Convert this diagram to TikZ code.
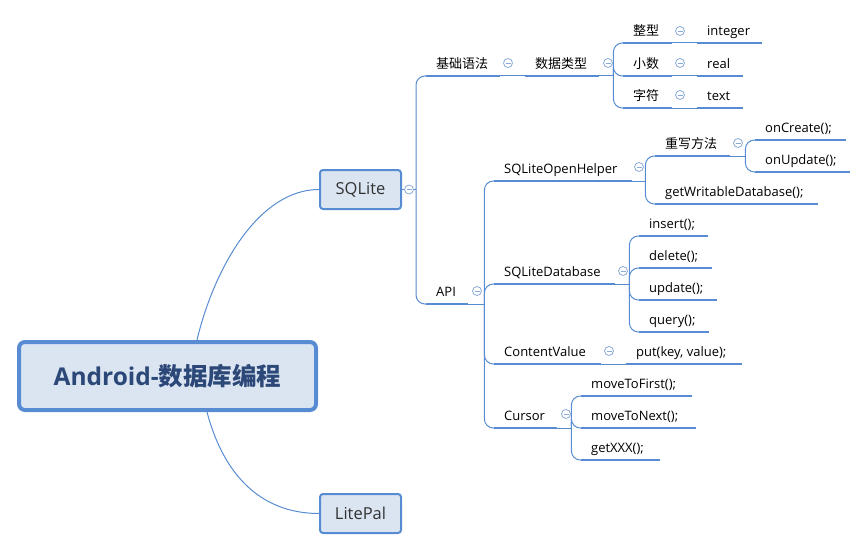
\documentclass[tikz,border=0pt]{standalone}
\usepackage{fontspec}
\setmainfont{Open Sans}
\newfontfamily\cjk{Noto Sans CJK SC}
\definecolor{lineblue}{RGB}{88,140,210}
\definecolor{boxfill}{RGB}{219,229,242}
\definecolor{rootText}{RGB}{44,72,120}
\definecolor{collc}{RGB}{140,170,215}
\definecolor{boxText}{RGB}{50,50,50}
\newcommand\tp[5]{\node[topic] (#1) at (#2,#3) {\makebox[#4pt][l]{#5}};\draw[uline] (#1.south west) -- (#1.south east);}
\newcommand\cl[3]{\node[coll] (#1) at (#2,#3) {};\draw[collc, line width=0.8pt] ([xshift=-2.5pt]#1.center) -- ([xshift=2.5pt]#1.center);}
\newcommand\br[2]{\draw[conn, rounded corners=9pt] (#1) |- (#2.south west);}
\begin{document}
\begin{tikzpicture}[x=1pt,y=-1pt,
 conn/.style={draw=lineblue, line width=1pt},
 uline/.style={draw=lineblue, line width=2.8pt},
 topic/.style={anchor=south west, inner xsep=10pt, inner ysep=4.5pt, text height=9.5pt, text depth=3pt, font=\fontsize{13}{15}\selectfont},
 coll/.style={circle, draw=collc, line width=0.8pt, fill=white, minimum size=9pt, inner sep=0pt},
 box/.style={draw=lineblue, line width=2pt, fill=boxfill, rounded corners=3pt, minimum width=81pt, minimum height=39pt, inner sep=0pt, font=\fontsize{16.5}{18}\selectfont, text=boxText},
 rootbox/.style={draw=lineblue, line width=4pt, fill=boxfill, rounded corners=6pt, minimum width=297pt, minimum height=68pt, inner sep=0pt, font=\fontsize{24.5}{27}\selectfont, text=rootText}]
\useasboundingbox (0,0) rectangle (868,551);

% main boxes
\node[rootbox] (root) at (167.5,376) {\bfseries Android-{\cjk\bfseries 数据库编程}};
\node[box] (sq) at (360.5,189.5) {SQLite};
\node[box] (lp) at (360.5,513.5) {LitePal};
\draw[conn] ([xshift=29.5pt]root.north) .. controls (215,265) and (260,189.5) .. (sq.west);
\draw[conn] ([xshift=39.5pt]root.south) .. controls (225,480) and (265,513.5) .. (lp.west);

% topics
\tp{jcyf}{426}{76}{54}{\cjk 基础语法}
\tp{api}{426}{304}{22}{API}
\tp{sjlx}{525}{76}{54}{\cjk 数据类型}
\tp{zx}{623}{43}{29}{\cjk 整型}
\tp{xs}{623}{76}{29}{\cjk 小数}
\tp{zf}{623}{108}{29}{\cjk 字符}
\tp{tint}{697}{43}{45}{integer}
\tp{treal}{697}{76}{26}{real}
\tp{ttext}{697}{108}{26}{text}
\tp{soh}{494}{181}{118}{SQLiteOpenHelper}
\tp{sdb}{494}{284}{101}{SQLiteDatabase}
\tp{cv}{494}{364}{87}{ContentValue}
\tp{cur}{494}{428}{43}{Cursor}
\tp{cxff}{655}{156}{55}{\cjk 重写方法}
\tp{gwd}{655}{204}{143}{getWritableDatabase();}
\tp{onc}{755}{140}{71}{onCreate();}
\tp{onu}{755}{172}{75}{onUpdate();}
\tp{ins}{639}{236}{49}{insert();}
\tp{del}{639}{268}{53}{delete();}
\tp{upd}{639}{300}{58}{update();}
\tp{qry}{639}{332}{50}{query();}
\tp{put}{626}{364}{96}{put(key, value);}
\tp{mtf}{581}{396}{91}{moveToFirst();}
\tp{mtn}{581}{428}{95}{moveToNext();}
\tp{gx}{581}{460}{59}{getXXX();}

% straight links
\draw[conn] (jcyf.south east) -- (sjlx.south west);
\draw[conn] (zx.south east) -- (tint.south west);
\draw[conn] (xs.south east) -- (treal.south west);
\draw[conn] (zf.south east) -- (ttext.south west);
\draw[conn] (cv.south east) -- (put.south west);

% junctions
\coordinate (Js) at (416,189.5);
\draw[conn] (sq.east) -- (Js);
\br{Js}{jcyf}\br{Js}{api}
\coordinate (Jd) at ([xshift=14pt]sjlx.south east);
\draw[conn] (sjlx.south east) -- (Jd);
\br{Jd}{zx}\br{Jd}{xs}\br{Jd}{zf}
\coordinate (Ja) at ([xshift=16pt]api.south east);
\draw[conn] (api.south east) -- (Ja);
\br{Ja}{soh}\br{Ja}{sdb}\br{Ja}{cv}\br{Ja}{cur}
\coordinate (Jo) at ([xshift=13pt]soh.south east);
\draw[conn] (soh.south east) -- (Jo);
\br{Jo}{cxff}\br{Jo}{gwd}
\coordinate (Jc) at ([xshift=15pt]cxff.south east);
\draw[conn] (cxff.south east) -- (Jc);
\br{Jc}{onc}\br{Jc}{onu}
\coordinate (Jb) at ([xshift=14pt]sdb.south east);
\draw[conn] (sdb.south east) -- (Jb);
\br{Jb}{ins}\br{Jb}{del}\br{Jb}{upd}\br{Jb}{qry}
\coordinate (Jr) at ([xshift=14pt]cur.south east);
\draw[conn] (cur.south east) -- (Jr);
\br{Jr}{mtf}\br{Jr}{mtn}\br{Jr}{gx}

% collapse markers
\cl{cS}{409}{189.5}
\cl{c1}{508}{63}
\cl{c2}{608}{63}
\cl{c3}{680}{31}
\cl{c4}{680}{63}
\cl{c5}{680}{95}
\cl{ca}{477}{291}
\cl{co}{639}{167}
\cl{cx}{738}{143}
\cl{cb}{623}{271}
\cl{cc}{609}{351}
\cl{cr}{566}{414}
\end{tikzpicture}
\end{document}
